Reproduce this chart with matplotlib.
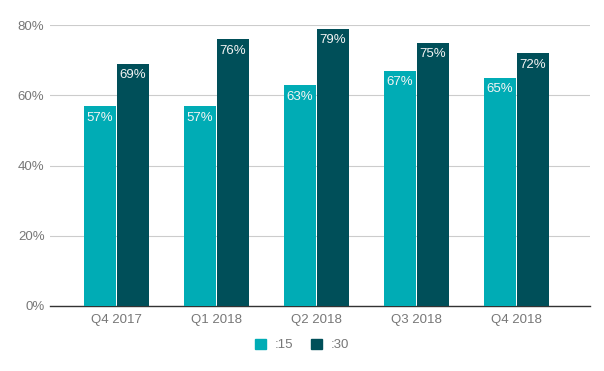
import matplotlib
matplotlib.use("Agg")
import matplotlib.pyplot as plt
import numpy as np
from matplotlib.patches import Patch

categories = ["Q4 2017", "Q1 2018", "Q2 2018", "Q3 2018", "Q4 2018"]
s15 = [0.57, 0.57, 0.63, 0.67, 0.65]
s30 = [0.69, 0.76, 0.79, 0.75, 0.72]
series_names = [":15", ":30"]
yticks = [0, 0.2, 0.4, 0.6, 0.8]
ytick_labels = ["0%", "20%", "40%", "60%", "80%"]

c15 = "#00ACB5"
c30 = "#004F59"

plt.rcParams['font.family'] = ['Liberation Sans', 'DejaVu Sans']

fig = plt.figure(figsize=(6.04, 3.71), dpi=100)
ax = fig.add_axes([50/604, 1-306/371, 540/604, 281/371])

x = np.arange(len(categories))
w = 0.32
b1 = ax.bar(x - w/2 - 0.005, s15, width=w, color=c15, zorder=3)
b2 = ax.bar(x + w/2 + 0.005, s30, width=w, color=c30, zorder=3)

for bars, vals in ((b1, s15), (b2, s30)):
    for r, v in zip(bars, vals):
        ax.annotate(f"{round(v*100)}%", (r.get_x() + r.get_width()/2, v),
                    xytext=(0, -8.5), textcoords="offset points",
                    ha="center", va="center", color="#f4f4f4", fontsize=9.5, zorder=4)

ax.set_xlim(-0.665, 4.735)
ax.set_ylim(0, 0.8)
ax.set_yticks(yticks)
ax.set_yticklabels(ytick_labels)
ax.set_xticks(x)
ax.set_xticklabels(categories)
ax.grid(axis="y", color="#cccccc", linewidth=0.8, zorder=0)
for s in ["top", "right", "left"]:
    ax.spines[s].set_visible(False)
ax.spines["bottom"].set_color("#333333")
ax.spines["bottom"].set_linewidth(1)
ax.tick_params(axis="both", length=0, colors="#777777", labelsize=9.5)
ax.tick_params(axis="x", pad=6)
ax.tick_params(axis="y", pad=4)

handles = [Patch(color=c15), Patch(color=c30)]
fig.legend(handles, series_names, loc="center", bbox_to_anchor=(302/604, 1-345/371),
           ncol=2, frameon=False, fontsize=9.5, handlelength=0.85, handleheight=0.85,
           columnspacing=1.3, handletextpad=0.7, labelcolor="#777777")

fig.savefig("out.png", dpi=100)
